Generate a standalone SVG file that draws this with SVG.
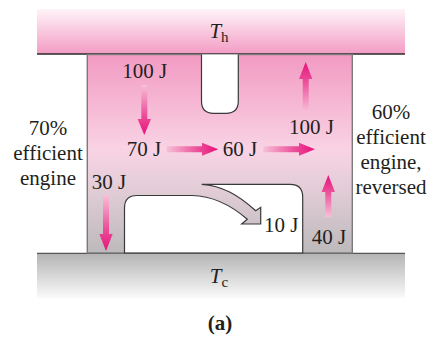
<svg xmlns="http://www.w3.org/2000/svg" width="442" height="337" viewBox="0 0 442 337">
<defs>
<linearGradient id="gHot" x1="0" y1="0" x2="0" y2="1">
<stop offset="0" stop-color="#fef4f8"/>
<stop offset="1" stop-color="#f39cc4"/>
</linearGradient>
<linearGradient id="gCold" x1="0" y1="0" x2="0" y2="1">
<stop offset="0" stop-color="#b3b3b3"/>
<stop offset="1" stop-color="#fafafa"/>
</linearGradient>
<linearGradient id="gBody" gradientUnits="userSpaceOnUse" x1="0" y1="54" x2="0" y2="253">
<stop offset="0" stop-color="#f29ac2"/>
<stop offset="0.48" stop-color="#f9d3e4"/>
<stop offset="0.68" stop-color="#e2cdd7"/>
<stop offset="1" stop-color="#bcb9bb"/>
</linearGradient>
<linearGradient id="aDown" x1="0" y1="0" x2="0" y2="1">
<stop offset="0" stop-color="#f7c0d8"/>
<stop offset="0.6" stop-color="#ec4f99"/>
<stop offset="1" stop-color="#e6127d"/>
</linearGradient>
<linearGradient id="aUp" x1="0" y1="1" x2="0" y2="0">
<stop offset="0" stop-color="#f7c0d8"/>
<stop offset="0.6" stop-color="#ec4f99"/>
<stop offset="1" stop-color="#e6127d"/>
</linearGradient>
<linearGradient id="aRight" x1="0" y1="0" x2="1" y2="0">
<stop offset="0" stop-color="#f7c0d8"/>
<stop offset="0.6" stop-color="#ec4f99"/>
<stop offset="1" stop-color="#e6127d"/>
</linearGradient>
<style>
.lbl{font-family:"Liberation Serif","Times New Roman",serif;font-size:21px;fill:#231f20}
.mid{text-anchor:middle}
.it{font-style:italic}
.hole{fill:#ffffff;stroke:#3a3a3a;stroke-width:1.2}
</style>
</defs>

<g id="hot-reservoir">
<rect x="37" y="9" width="368" height="45" fill="url(#gHot)"/>
<line x1="37" y1="54" x2="405" y2="54" stroke="#2a2a2a" stroke-width="1.3"/>
<text class="lbl" x="219" y="38" text-anchor="middle"><tspan class="it">T</tspan><tspan font-size="15" dy="4">h</tspan></text>
</g>

<g id="cold-reservoir">
<rect x="37" y="253" width="368" height="45" fill="url(#gCold)"/>
<line x1="37" y1="253.3" x2="405" y2="253.3" stroke="#555555" stroke-width="1.3"/>
<text class="lbl" x="219" y="283" text-anchor="middle"><tspan class="it">T</tspan><tspan font-size="15" dy="4">c</tspan></text>
</g>

<g id="engines">
<rect x="87.3" y="54.5" width="265" height="198.5" fill="url(#gBody)" stroke="#7a7a7a" stroke-width="1.4"/>
<path class="hole" d="M201.5,54.5 V101 Q201.5,113.3 213.5,113.3 H226 Q238.3,113.3 238.3,101 V54.5"/>
<path class="hole" d="M124.5,253 V208 Q124.5,195.5 137,195.5 H192 C215,196 232,206 247.3,219.3 L241.7,224 H260.7 V207.3 L255.7,210.7 C238,195 222,185.5 201.7,184.3 H290 Q302.7,184.3 302.7,197 V253 Z"/>
<line x1="124.5" y1="253.3" x2="302.7" y2="253.3" stroke="#555555" stroke-width="1.3"/>
</g>

<g id="connectors">
<polygon fill="url(#aDown)" points="141.3,85 147.3,85 147.3,119 151,119 144.3,135 137.6,119 141.3,119"/>
<polygon fill="url(#aUp)" points="302.7,112 308.7,112 308.7,79 312.4,79 305.7,62 299,79 302.7,79"/>
<polygon fill="url(#aRight)" points="166.7,146.3 166.7,152.3 202,152.3 202,155.8 218.3,149.3 202,142.8 202,146.3"/>
<polygon fill="url(#aRight)" points="263.3,146.3 263.3,152.3 299,152.3 299,155.8 315,149.3 299,142.8 299,146.3"/>
<polygon fill="url(#aDown)" points="103,195 109,195 109,234 112.7,234 106,251 99.3,234 103,234"/>
<polygon fill="url(#aUp)" points="325.3,217 331.3,217 331.3,192 335,192 328.3,175 321.6,192 325.3,192"/>
</g>

<g id="labels">
<text class="lbl" x="122.3" y="77.5">100 J</text>
<text class="lbl" x="289" y="134">100 J</text>
<text class="lbl" x="126.7" y="155.7">70 J</text>
<text class="lbl" x="222.7" y="155.7">60 J</text>
<text class="lbl" x="91.7" y="189">30 J</text>
<text class="lbl" x="264" y="231.7">10 J</text>
<text class="lbl" x="311.7" y="244">40 J</text>
</g>

<g id="left-engine-label">
<text class="lbl mid" x="48" y="135">70%</text>
<text class="lbl mid" x="48" y="160">efficient</text>
<text class="lbl mid" x="48" y="185">engine</text>
</g>

<g id="right-engine-label">
<text class="lbl mid" x="391" y="118.5">60%</text>
<text class="lbl mid" x="391" y="143.5">efficient</text>
<text class="lbl mid" x="391" y="168.5">engine,</text>
<text class="lbl mid" x="391" y="194">reversed</text>
</g>

<g id="caption">
<text class="lbl mid" x="220" y="330" font-weight="bold">(a)</text>
</g>
</svg>
